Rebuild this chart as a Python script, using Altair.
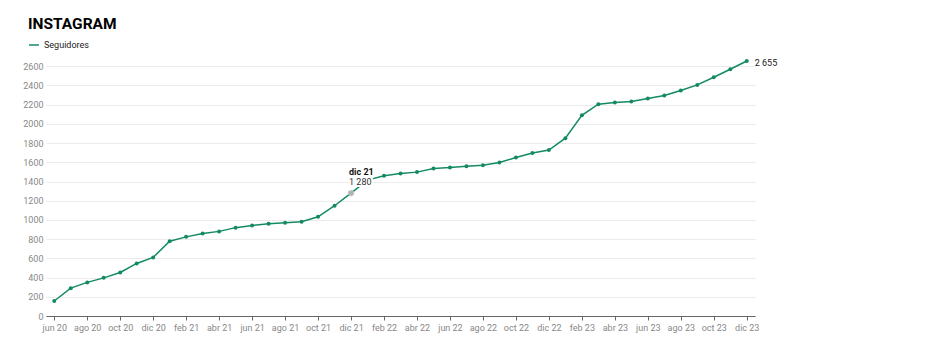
import altair as alt
import pandas as pd

months = ["ene", "feb", "mar", "abr", "may", "jun", "jul", "ago", "sep", "oct", "nov", "dic"]
labels = []
for yr in [20, 21, 22, 23]:
    for i, m in enumerate(months):
        if yr == 20 and i < 5:
            continue
        labels.append(f"{m} {yr}")

seguidores = [156, 290, 350, 397, 453, 547, 610,
              778, 824, 858, 881, 920, 942, 960, 970, 981, 1033, 1148, 1280,
              1415, 1460, 1484, 1498, 1536, 1546, 1560, 1570, 1598, 1650, 1698, 1728,
              1851, 2090, 2205, 2222, 2233, 2264, 2295, 2347, 2406, 2486, 2569, 2655]

highlight = "dic 21"
serie = "Seguidores"

def fmt(v):
    return f"{v:,}".replace(",", " ")

df = pd.DataFrame({"mes": labels, "valor": seguidores, "serie": serie})
df["txt"] = [fmt(v) for v in seguidores]

GREEN = "#138a62"
tick_vals = labels[::2]

x = alt.X("mes:O", sort=labels,
          scale=alt.Scale(type="point", padding=0.5),
          axis=alt.Axis(values=tick_vals, labelAngle=0, title=None, grid=False,
                        domainColor="#666", tickColor="#666", tickSize=4,
                        labelColor="#888", labelFontSize=9, labelPadding=3))
y = alt.Y("valor:Q", scale=alt.Scale(domain=[0, 2655], nice=False),
          axis=alt.Axis(values=list(range(0, 2700, 200)), format="d", title=None,
                        domain=False, ticks=False, labelColor="#888", labelFontSize=9,
                        labelPadding=3, gridColor="#ebebeb"))

base = alt.Chart(df)

line = base.mark_line(strokeWidth=1.5).encode(
    x=x, y=y,
    color=alt.Color("serie:N", scale=alt.Scale(range=[GREEN]),
                    legend=alt.Legend(title=None, orient="none", legendX=-18, legendY=-22,
                                      symbolType="stroke", symbolSize=100,
                                      symbolStrokeWidth=1.5, labelFontSize=9,
                                      labelColor="#222", labelOffset=4)))

pts = base.mark_circle(size=16, opacity=1, color=GREEN).encode(x=x, y=y)

hl = base.transform_filter(alt.datum.mes == highlight)
hl_pt = hl.mark_circle(size=40, color="#bbbbbb", opacity=0.9).encode(x=x, y=y)
hl_halo1 = hl.mark_text(align="left", baseline="middle", dx=-2, dy=-21,
                        fontSize=9, fontWeight="bold", color="white",
                        stroke="white", strokeWidth=4).encode(x=x, y=y, text="mes:N")
hl_halo2 = hl.mark_text(align="left", baseline="middle", dx=-2, dy=-11,
                        fontSize=9, color="white", stroke="white",
                        strokeWidth=4).encode(x=x, y=y, text="txt:N")
hl_lab1 = hl.mark_text(align="left", baseline="middle", dx=-2, dy=-21,
                       fontSize=9, fontWeight="bold", color="#111").encode(
    x=x, y=y, text="mes:N")
hl_lab2 = hl.mark_text(align="left", baseline="middle", dx=-2, dy=-11,
                       fontSize=9, color="#333").encode(x=x, y=y, text="txt:N")

last = base.transform_filter(alt.datum.mes == labels[-1])
end_lab = last.mark_text(align="left", baseline="middle", dx=8, dy=2,
                         fontSize=9, color="#222").encode(x=x, y=y, text="txt:N")

chart = alt.layer(line, pts, hl_pt, hl_halo1, hl_halo2, hl_lab1, hl_lab2, end_lab).properties(
    width=709, height=255,
    title=alt.TitleParams("INSTAGRAM", anchor="start", frame="group", dx=-18,
                          font="Roboto",
                          fontSize=15.5, fontWeight="bold", color="#000", offset=7),
    autosize=alt.AutoSizeParams(type="none"),
    padding={"left": 38, "top": 53, "right": 180, "bottom": 30},
).configure(font="Roboto").configure_view(stroke=None)

chart.save("out.html", embed_options={"renderer": "svg", "actions": False})
